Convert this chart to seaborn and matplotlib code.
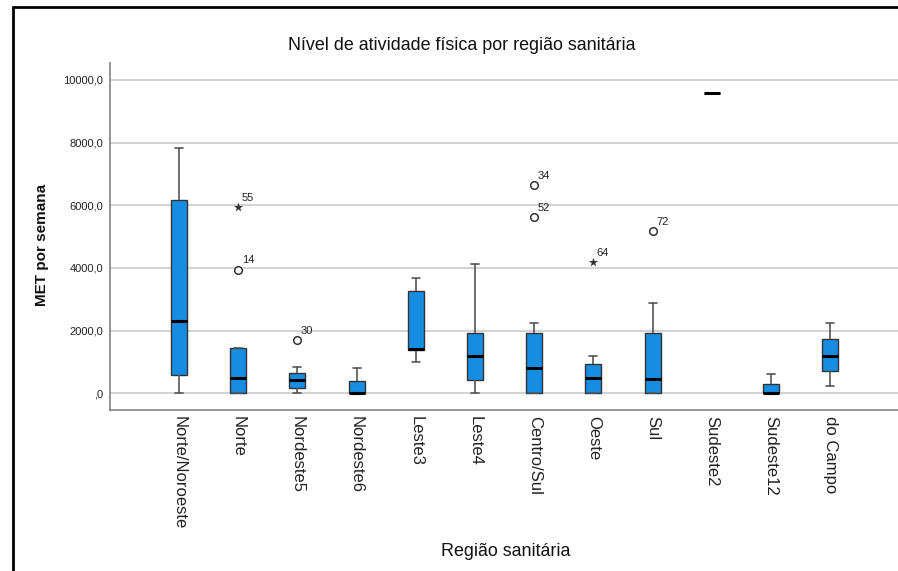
import matplotlib
matplotlib.use("Agg")
import matplotlib.pyplot as plt
from matplotlib.ticker import FuncFormatter, FixedLocator
from matplotlib.lines import Line2D
import pandas as pd
import seaborn as sns

# Health regions, in display order
regions = ["Norte/Noroeste", "Norte", "Nordeste5", "Nordeste6", "Leste3", "Leste4",
           "Centro/Sul", "Oeste", "Sul", "Sudeste2", "Sudeste12", "do Campo"]

# Five-number summary of weekly MET per region (whisker ends, quartiles, median)
whisker_low = [0, 0, 0, 0, 990, 0, 0, 0, 0, 9600, 0, 240]
q1 = [570, 0, 180, 0, 1380, 410, 0, 0, 0, 9600, 0, 710]
median = [2310, 500, 410, 0, 1400, 1200, 800, 480, 460, 9600, 0, 1190]
q3 = [6170, 1440, 650, 400, 3270, 1940, 1920, 950, 1920, 9600, 310, 1720]
whisker_high = [7820, 1440, 840, 800, 3670, 4140, 2230, 1190, 2870, 9600, 610, 2230]

# Outlying cases (circle = outlier, star = extreme value)
outlier_region = ["Norte", "Norte", "Nordeste5", "Centro/Sul", "Centro/Sul", "Oeste", "Sul"]
outlier_value = [3950, 5940, 1710, 6640, 5620, 4180, 5180]
outlier_case = ["14", "55", "30", "34", "52", "64", "72"]
outlier_extreme = [False, True, False, False, False, True, False]

yticks = [0, 2000, 4000, 6000, 8000, 10000]

# Long table: the five summary points reproduce each box exactly
rows = []
for i, r in enumerate(regions):
    for v in (whisker_low[i], q1[i], median[i], q3[i], whisker_high[i]):
        rows.append({"region": r, "met": v})
df = pd.DataFrame(rows)

out = pd.DataFrame({"region": outlier_region, "met": outlier_value,
                    "case": outlier_case, "extreme": outlier_extreme})

sns.set_theme(style="white")
plt.rcParams["font.family"] = ["Liberation Sans", "DejaVu Sans"]

W, H = 898, 571
fig = plt.figure(figsize=(W / 100, H / 100), dpi=100)
ax = fig.add_axes([110 / W, (H - 410) / H, (W - 110) / W, (410 - 63) / H])

grey_line = "#555555"
sns.boxplot(data=df, x="region", y="met", order=regions, ax=ax,
            width=0.27, color="#178de2", saturation=1, linecolor="#333333",
            linewidth=1, fliersize=0, whis=1.5,
            medianprops=dict(color="black", linewidth=2.2),
            whiskerprops=dict(color=grey_line, linewidth=1.2),
            capprops=dict(color=grey_line, linewidth=1.2))

circ = out[~out["extreme"]]
star = out[out["extreme"]]
sns.stripplot(data=circ, x="region", y="met", order=regions, ax=ax, jitter=False,
              marker="o", size=5.5, color="white", edgecolor="#333333", linewidth=1.1)
sns.stripplot(data=star, x="region", y="met", order=regions, ax=ax, jitter=False,
              marker="*", size=7, color="#333333", linewidth=0)

for _, row in out.iterrows():
    ax.annotate(row["case"], xy=(regions.index(row["region"]), row["met"]),
                xytext=(2.5, 3), textcoords="offset points", ha="left", va="bottom",
                fontsize=8, color="#222222")

# Axes frame, limits and grid
ax.set_xlim(-1.166, 12.146)
ax.set_ylim(-533, 10542)
ax.yaxis.set_major_locator(FixedLocator(yticks))
ax.yaxis.set_major_formatter(FuncFormatter(
    lambda v, p: ",0" if v == 0 else f"{v:.1f}".replace(".", ",")))
ax.grid(axis="y", color="#d2d2d2", linewidth=1.4)
ax.grid(axis="x", visible=False)
ax.set_axisbelow(True)
for side in ("top", "right"):
    ax.spines[side].set_visible(False)
for side in ("left", "bottom"):
    ax.spines[side].set_color("#8c8c8c")
    ax.spines[side].set_linewidth(1.3)

ax.tick_params(axis="y", length=0, pad=5, labelsize=8, labelcolor="#222222")
ax.tick_params(axis="x", length=0, pad=4, labelsize=12, labelcolor="#222222")
plt.setp(ax.get_xticklabels(), rotation=-90, ha="center", va="top")
ax.set_xlabel("")
ax.set_ylabel("")

fig.text(462 / W, 1 - 46 / H, "Nível de atividade física por região sanitária",
         ha="center", va="center", fontsize=12.9, color="#111111")
fig.text(506 / W, 1 - 551 / H, "Região sanitária",
         ha="center", va="center", fontsize=12.9, color="#111111")
fig.text(42 / W, 1 - 245 / H, "MET por semana", rotation=90,
         ha="center", va="center", fontsize=11, fontweight="bold", color="#111111")

# Outer chart border (left and top edges)
fig.add_artist(Line2D([12.5 / W, 12.5 / W], [0, 1 - 6.5 / H], transform=fig.transFigure,
                      color="black", linewidth=2))
fig.add_artist(Line2D([12.5 / W, 1], [1 - 6.5 / H, 1 - 6.5 / H], transform=fig.transFigure,
                      color="black", linewidth=2))

fig.savefig("out.png", dpi=100)
